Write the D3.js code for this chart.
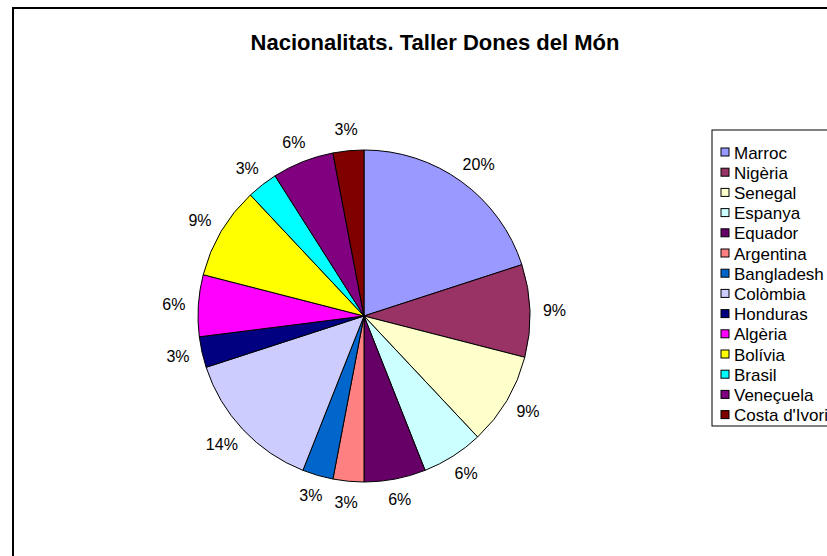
<!DOCTYPE html>
<html>
<head>
<meta charset="utf-8">
<script src="https://cdn.jsdelivr.net/npm/d3@7"></script>
<style>
  body { margin: 0; background: #fff; }
  svg { display: block; font-family: "Liberation Sans", Arial, sans-serif; }
</style>
</head>
<body>
<svg id="chart"></svg>
<script>
const countries = ['Marroc', 'Nigèria', 'Senegal', 'Espanya', 'Equador', 'Argentina', 'Bangladesh',
  'Colòmbia', 'Honduras', 'Algèria', 'Bolívia', 'Brasil', 'Veneçuela', "Costa d'Ivori"];
const percents = [20, 9, 9, 6, 6, 3, 3, 14, 3, 6, 9, 3, 6, 3];
const colors = ['#9999ff', '#993366', '#ffffcc', '#ccffff', '#660066', '#ff8080', '#0066cc',
  '#ccccff', '#000080', '#ff00ff', '#ffff00', '#00ffff', '#800080', '#800000'];

const W = 827, H = 556;
const cx = 364, cy = 316, r = 166;

const svg = d3.select('#chart')
.attr('width', W)
.attr('height', H);

// chart area border (runs off the right and bottom)
svg.append('rect')
.attr('x', 13).attr('y', 8)
.attr('width', W + 20).attr('height', H + 20)
.attr('fill', '#fff')
.attr('stroke', '#000')
.attr('stroke-width', 2);

svg.append('text')
.attr('x', 435)
.attr('y', 50)
.attr('text-anchor', 'middle')
.style('font-size', '22px')
.style('font-weight', 'bold')
.text('Nacionalitats. Taller Dones del Món');

const data = countries.map((c, i) => ({name: c, value: percents[i], color: colors[i]}));

const pie = d3.pie().sort(null).value(d => d.value);
const arc = d3.arc().innerRadius(0).outerRadius(r);

const g = svg.append('g')
.attr('transform', `translate(${cx}, ${cy})`);

const arcs = pie(data);

g.selectAll('path')
.data(arcs)
.enter()
.append('path')
.attr('d', arc)
.attr('fill', d => d.data.color)
.attr('stroke', '#000')
.attr('stroke-width', 1);

// outside labels, pushed out by half their size
const fs = 16;
g.selectAll('text.lbl')
.data(arcs)
.enter()
.append('text')
.attr('class', 'lbl')
.attr('text-anchor', 'middle')
.attr('dominant-baseline', 'central')
.style('font-size', fs + 'px')
.text(d => d.data.value + '%')
.each(function(d) {
  const a = (d.startAngle + d.endAngle) / 2;
  const w = this.getComputedTextLength();
  const rr = r + 13;
  const x = Math.sin(a) * (rr + w / 2);
  const y = -Math.cos(a) * (rr + fs / 2);
  d3.select(this).attr('x', x).attr('y', y);
});

// legend
const lx = 712, ly = 130, step = 20.2;
svg.append('rect')
.attr('x', lx).attr('y', ly)
.attr('width', 200).attr('height', 296)
.attr('fill', '#fff')
.attr('stroke', '#000')
.attr('stroke-width', 1);

const leg = svg.selectAll('g.leg')
.data(data)
.enter()
.append('g')
.attr('class', 'leg')
.attr('transform', (d, i) => `translate(${lx + 9}, ${ly + 22 + i * step})`);

leg.append('rect')
.attr('x', 0).attr('y', -4)
.attr('width', 8).attr('height', 8)
.attr('fill', d => d.color)
.attr('stroke', '#000')
.attr('stroke-width', 1);

leg.append('text')
.attr('x', 13)
.attr('y', 1)
.attr('dominant-baseline', 'central')
.style('font-size', '17px')
.text(d => d.name);
</script>
</body>
</html>
